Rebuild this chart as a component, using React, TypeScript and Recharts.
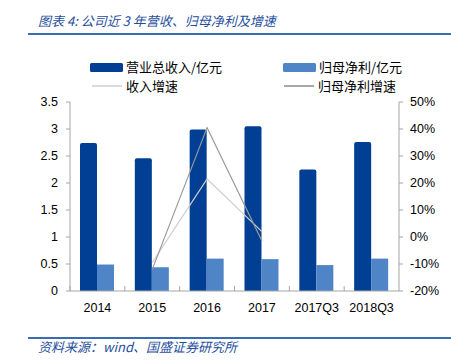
import { ComposedChart, Bar, Line, XAxis, YAxis } from "recharts";

const categories = ["2014", "2015", "2016", "2017", "2017Q3", "2018Q3"];
const revenue = [2.74, 2.46, 2.99, 3.05, 2.25, 2.76];
const netProfit = [0.49, 0.44, 0.6, 0.59, 0.48, 0.6];
const revenueGrowth = [null, -9.5, 21.5, 2.0, null, null];
const profitGrowth = [null, -12, 40.5, -1.5, null, null];
const leftTicks = [0, 0.5, 1, 1.5, 2, 2.5, 3, 3.5];
const rightTicks = [-20, -10, 0, 10, 20, 30, 40, 50];

const data = categories.map((name, i) => ({
  name,
  revenue: revenue[i],
  netProfit: netProfit[i],
  revenueGrowth: revenueGrowth[i],
  profitGrowth: profitGrowth[i],
}));

const DARK = "#003f93";
const LIGHT = "#4f84c6";
const GROWTH_REV = "#cfcfcf";
const GROWTH_PROFIT = "#9a9a9a";
const AXIS = "#a6a6a6";
const TITLE_BLUE = "#1f4f9d";

const W = 451;
const H = 361;
const PLOT_LEFT = 70;
const PLOT_RIGHT = 399;
const BAND_HALF = (PLOT_RIGHT - PLOT_LEFT) / categories.length / 2;

const tickFont = { fontFamily: "'Liberation Sans', Arial, sans-serif", fontSize: 12.5, fill: "#000" };
const cjk = "'Noto Sans CJK SC', sans-serif";

function XTick(props: any) {
  const { x, y, payload } = props;
  return (
    <g>
      <line x1={x - BAND_HALF} x2={x - BAND_HALF} y1={y} y2={y - 5} stroke={AXIS} />
      <text x={x} y={y + 21} textAnchor="middle" {...tickFont}>
        {payload.value}
      </text>
    </g>
  );
}

function LegendItem({ x, y, kind, color, label }: { x: number; y: number; kind: "bar" | "line"; color: string; label: string }) {
  return (
    <div style={{ position: "absolute", left: x, top: y - 9, height: 18, display: "flex", alignItems: "center" }}>
      {kind === "bar" ? (
        <div style={{ width: 33, height: 9, background: color, borderRadius: 1.5 }} />
      ) : (
        <div style={{ width: 30, height: 1.5, background: color, marginLeft: 2, marginRight: 1 }} />
      )}
      <span style={{ fontFamily: cjk, fontSize: 13, color: "#000", marginLeft: 3, lineHeight: "18px" }}>{label}</span>
    </div>
  );
}

export default function App() {
  return (
    <div style={{ position: "fixed", left: 0, top: 0, width: W, height: H, background: "#fff", overflow: "hidden" }}>
      <div
        style={{
          position: "absolute",
          left: 38,
          top: 12,
          fontFamily: cjk,
          fontStyle: "italic",
          fontSize: 13,
          color: TITLE_BLUE,
          lineHeight: "18px",
          whiteSpace: "nowrap",
        }}
      >
        图表 4: 公司近 3 年营收、归母净利及增速
      </div>
      <div style={{ position: "absolute", left: 28, top: 33, width: 423, height: 2, background: "#3b6cb3" }} />

      <ComposedChart
        width={W}
        height={H}
        data={data}
        margin={{ top: 102, right: 2, left: 20, bottom: 40 }}
        barGap={0}
        barSize={17}
      >
        <XAxis
          dataKey="name"
          stroke={AXIS}
          tickLine={false}
          tickSize={0}
          tickMargin={0}
          height={30}
          tick={<XTick />}
          interval={0}
        />
        <YAxis
          yAxisId="l"
          domain={[0, 3.5]}
          ticks={leftTicks}
          width={50}
          stroke={AXIS}
          tickSize={4}
          tickMargin={8}
          tick={tickFont}
          interval={0}
        />
        <YAxis
          yAxisId="r"
          orientation="right"
          domain={[-20, 50]}
          ticks={rightTicks}
          width={50}
          stroke={AXIS}
          tickSize={4}
          tickMargin={7}
          tick={tickFont}
          tickFormatter={(v: number) => `${v}%`}
          interval={0}
        />
        <Bar yAxisId="l" dataKey="revenue" fill={DARK} radius={[2, 2, 0, 0]} isAnimationActive={false} />
        <Bar yAxisId="l" dataKey="netProfit" fill={LIGHT} isAnimationActive={false} />
        <Line
          yAxisId="r"
          dataKey="revenueGrowth"
          stroke={GROWTH_REV}
          strokeWidth={1.2}
          dot={false}
          type="linear"
          isAnimationActive={false}
        />
        <Line
          yAxisId="r"
          dataKey="profitGrowth"
          stroke={GROWTH_PROFIT}
          strokeWidth={1.2}
          dot={false}
          type="linear"
          isAnimationActive={false}
        />
      </ComposedChart>

      <LegendItem x={90} y={67} kind="bar" color={DARK} label="营业总收入/亿元" />
      <LegendItem x={283} y={67} kind="bar" color={LIGHT} label="归母净利/亿元" />
      <LegendItem x={90} y={86} kind="line" color="#dadada" label="收入增速" />
      <LegendItem x={282} y={86} kind="line" color="#a8a8a8" label="归母净利增速" />

      <div style={{ position: "absolute", left: 28, top: 337, width: 423, height: 1.5, background: "#3b6cb3" }} />
      <div
        style={{
          position: "absolute",
          left: 38,
          top: 338,
          fontFamily: cjk,
          fontStyle: "italic",
          fontSize: 13,
          color: TITLE_BLUE,
          lineHeight: "18px",
          whiteSpace: "nowrap",
        }}
      >
        资料来源：wind、国盛证券研究所
      </div>
    </div>
  );
}
